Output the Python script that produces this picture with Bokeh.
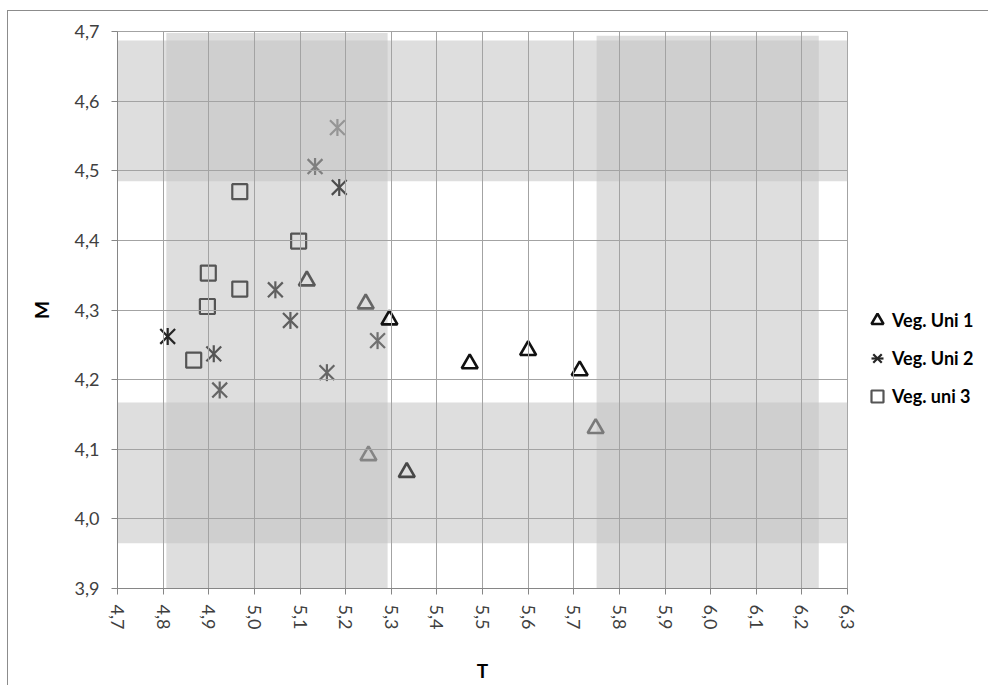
import math
from bokeh.plotting import figure
from bokeh.models import (Legend, LegendItem, ColumnDataSource, FixedTicker,
                          CustomJSTickFormatter)
from bokeh.embed import file_html
from bokeh.resources import INLINE

# ---- data ----
uni1_T = [5.115, 5.244, 5.296, 5.472, 5.600, 5.713, 5.748, 5.250, 5.334]
uni1_M = [4.342, 4.309, 4.286, 4.223, 4.242, 4.213, 4.130, 4.091, 4.067]

uni2_T = [5.182, 5.133, 5.186, 5.046, 5.079, 4.810, 4.911, 4.924, 5.159, 5.270]
uni2_M = [4.562, 4.506, 4.476, 4.329, 4.285, 4.262, 4.237, 4.185, 4.210, 4.256]

uni3_T = [4.968, 5.097, 4.899, 4.968, 4.897, 4.867]
uni3_M = [4.470, 4.399, 4.353, 4.330, 4.305, 4.228]

# shaded ranges
band_M_low = [4.485, 3.965]
band_M_high = [4.687, 4.167]
band_T_low = [4.807, 5.750]
band_T_high = [5.292, 6.237]
band_T_top = [4.698, 4.694]

x_ticks = [4.7, 4.8, 4.9, 5.0, 5.1, 5.2, 5.3, 5.4, 5.5, 5.6, 5.7, 5.8, 5.9, 6.0, 6.1, 6.2, 6.3]
y_ticks = [3.9, 4.0, 4.1, 4.2, 4.3, 4.4, 4.5, 4.6, 4.7]

labels = ["Veg. Uni 1", "Veg. Uni 2", "Veg. uni 3"]

# per-point stroke shades (styles)
uni1_colors = ["#595959", "#666666", "#111111", "#111111", "#111111", "#111111",
               "#7a7a7a", "#858585", "#474747"]
uni2_colors = ["#959595", "#7f7f7f", "#4d4d4d", "#5f5f5f", "#5f5f5f", "#262626",
               "#555555", "#666666", "#666666", "#707070"]
uni3_colors = ["#555555"] * len(uni3_T)

FONT = "Lato"
GRID = "#a3a3a3"
AXIS = "#868686"

p = figure(frame_width=730, frame_height=557,
           x_range=(4.7, 6.3), y_range=(3.9, 4.7),
           output_backend="svg", toolbar_location=None,
           min_border_left=109, min_border_top=20,
           min_border_right=120, min_border_bottom=95,
           background_fill_color="white", border_fill_color="white",
           styles={"border-left": "1px solid #8c8c8c",
                   "border-top": "1px solid #8c8c8c",
                   "margin-left": "7px",
                   "margin-top": "10px"})

p.outline_line_color = GRID

# bands (under the grid)
p.quad(left=4.7, right=6.3, bottom=band_M_low, top=band_M_high,
       fill_color="#c2c2c2", fill_alpha=0.55, line_color=None, level="underlay")
p.quad(left=band_T_low, right=band_T_high, bottom=3.9, top=band_T_top,
       fill_color="#c2c2c2", fill_alpha=0.55, line_color=None, level="underlay")

# axes
for ax in (p.xaxis[0], p.yaxis[0]):
    ax.axis_line_color = AXIS
    ax.major_tick_line_color = AXIS
    ax.minor_tick_line_color = None
    ax.major_tick_in = 0
    ax.major_tick_out = 6
    ax.major_label_text_font = FONT
    ax.major_label_text_font_size = "18px"
    ax.major_label_text_color = "#404040"
    ax.axis_label_text_font = FONT
    ax.axis_label_text_font_size = "19px"
    ax.axis_label_text_font_style = "bold"
    ax.axis_label_text_color = "#000000"
    ax.formatter = CustomJSTickFormatter(code="return tick.toFixed(1).replace('.', ',');")

p.xaxis.ticker = FixedTicker(ticks=x_ticks)
p.yaxis.ticker = FixedTicker(ticks=y_ticks)
p.xaxis.major_label_orientation = -math.pi / 2
p.xaxis.major_label_standoff = 10
p.yaxis.major_label_standoff = 12
p.xaxis.axis_label = "T"
p.yaxis.axis_label = "M"
p.xaxis.axis_label_standoff = 27
p.yaxis.axis_label_standoff = 19

p.xgrid.ticker = FixedTicker(ticks=x_ticks)
p.ygrid.ticker = FixedTicker(ticks=y_ticks)
for g in (p.xgrid[0], p.ygrid[0]):
    g.grid_line_color = GRID
    g.grid_line_width = 1
    g.level = "glyph"

# series
s1 = ColumnDataSource(dict(x=uni1_T, y=uni1_M, c=uni1_colors))
s2 = ColumnDataSource(dict(x=uni2_T, y=uni2_M, c=uni2_colors))
s3 = ColumnDataSource(dict(x=uni3_T, y=uni3_M, c=uni3_colors))

r1 = p.scatter("x", "y", source=s1, marker="triangle", size=16,
               line_color="c", line_width=2.6, fill_color=None)
r2a = p.scatter("x", "y", source=s2, marker="x", size=21,
                line_color="c", line_width=2.2)
r2b = p.scatter("x", "y", source=s2, marker="dash", size=17, angle=math.pi / 2,
                line_color="c", line_width=2.2)
r3 = p.scatter("x", "y", source=s3, marker="square", size=15,
               line_color="c", line_width=2.2, fill_color=None)

legend = Legend(items=[LegendItem(label=labels[0], renderers=[r1], index=2),
                       LegendItem(label=labels[1], renderers=[r2a, r2b], index=5),
                       LegendItem(label=labels[2], renderers=[r3], index=0)],
                location=(15, 175),
                label_text_font=FONT, label_text_font_style="bold",
                label_text_font_size="18px", label_text_color="#000000",
                glyph_width=30, glyph_height=34, spacing=4, label_standoff=0,
                padding=0, margin=0, border_line_color=None,
                background_fill_alpha=0)
p.add_layout(legend, "right")

open("out.html", "w").write(file_html(p, INLINE))
